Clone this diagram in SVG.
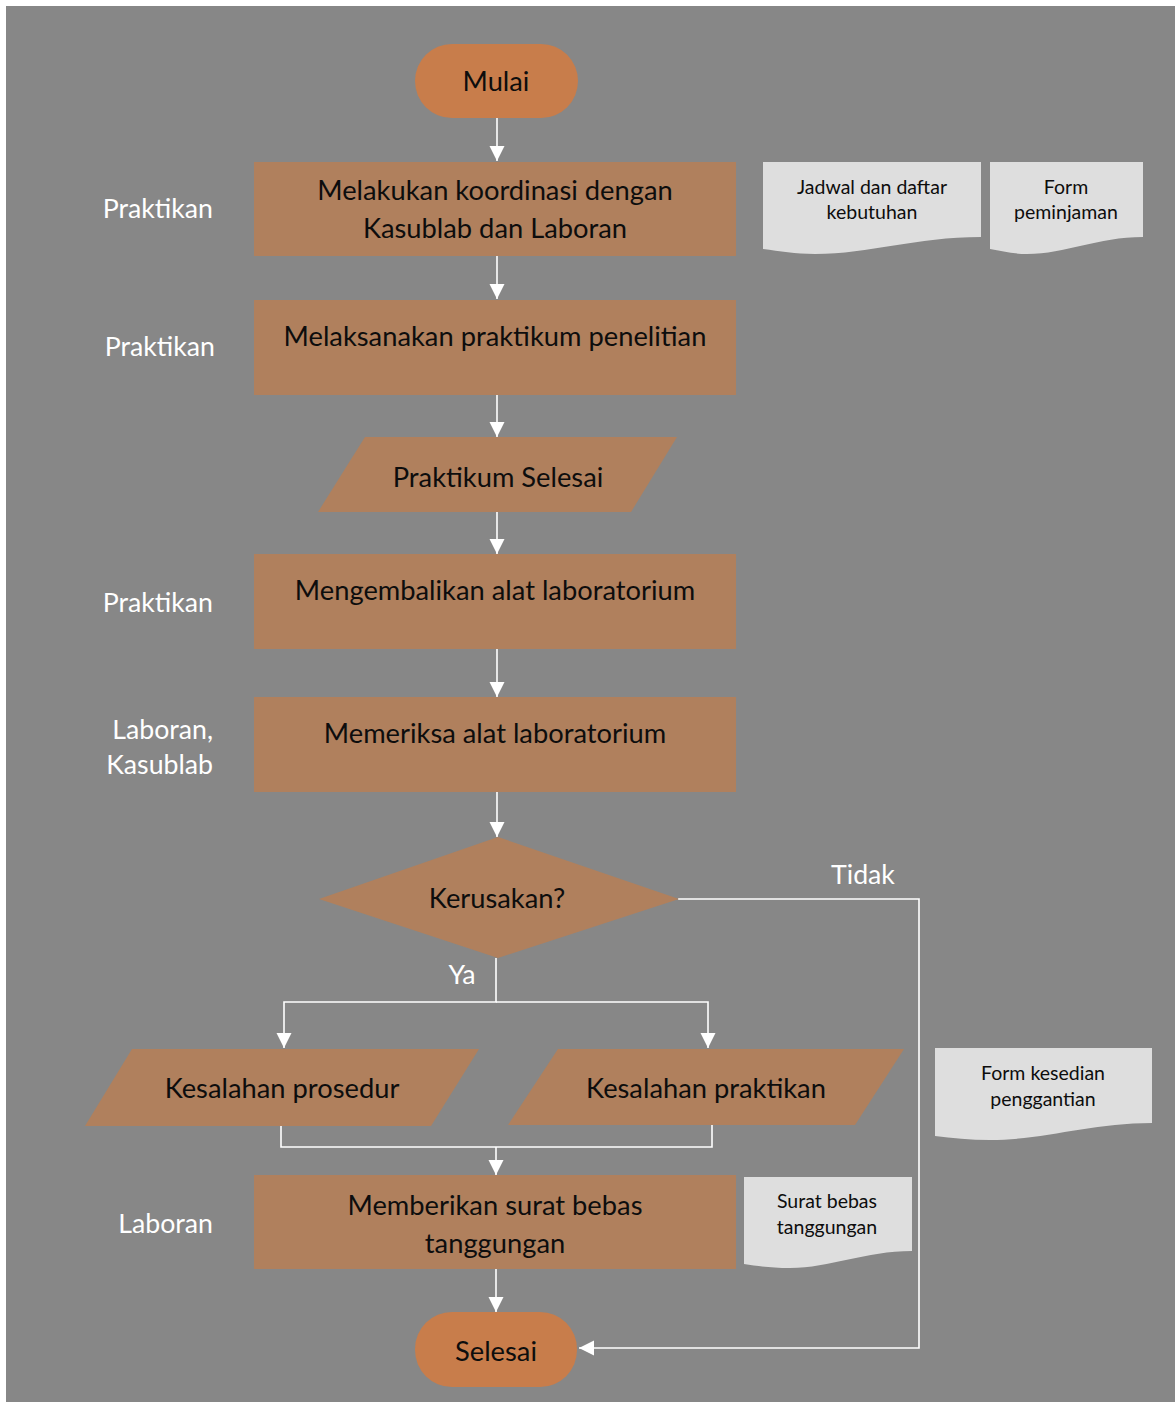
<svg xmlns="http://www.w3.org/2000/svg" width="1175" height="1403" viewBox="0 0 1175 1403">
<defs>
<style>
.bg{fill:#878787}
.proc{fill:#B0805D}
.term{fill:#C87D4B}
.doc{fill:#DEDEDE}
.t{font-family:Lato,"Open Sans","Liberation Sans",sans-serif;fill:#0d0d0d;text-anchor:middle}
.big{font-size:27.3px}
.small{font-size:19.5px}
.lbl{font-family:Lato,"Open Sans","Liberation Sans",sans-serif;fill:#ffffff;text-anchor:end;font-size:26.7px}
.lblc{font-family:Lato,"Open Sans","Liberation Sans",sans-serif;fill:#ffffff;text-anchor:middle;font-size:26.7px}
.ln{fill:none;stroke:#ffffff;stroke-width:1.6}
</style>
<marker id="ah" markerWidth="15" markerHeight="16" refX="15" refY="7.5" orient="auto" markerUnits="userSpaceOnUse" viewBox="0 0 15 15">
<path d="M0,0 L15,7.5 L0,15 Z" fill="#ffffff"/>
</marker>
</defs>
<rect x="0" y="0" width="1175" height="1403" fill="#ffffff"/>
<rect class="bg" x="6" y="6" width="1169" height="1396"/>

<g id="connectors">
<line class="ln" x1="497" y1="118" x2="497" y2="161" marker-end="url(#ah)"/>
<line class="ln" x1="497" y1="256" x2="497" y2="299" marker-end="url(#ah)"/>
<line class="ln" x1="497" y1="395" x2="497" y2="437" marker-end="url(#ah)"/>
<line class="ln" x1="497" y1="512" x2="497" y2="554" marker-end="url(#ah)"/>
<line class="ln" x1="497" y1="649" x2="497" y2="697" marker-end="url(#ah)"/>
<line class="ln" x1="497" y1="792" x2="497" y2="837" marker-end="url(#ah)"/>
<polyline class="ln" points="496,958 496,1002 284,1002 284,1048" marker-end="url(#ah)"/>
<polyline class="ln" points="496,1002 708,1002 708,1048" marker-end="url(#ah)"/>
<polyline class="ln" points="281,1125 281,1147 712,1147 712,1125"/>
<line class="ln" x1="496" y1="1147" x2="496" y2="1175" marker-end="url(#ah)"/>
<line class="ln" x1="496" y1="1269" x2="496" y2="1312" marker-end="url(#ah)"/>
<polyline class="ln" points="678,899 919,899 919,1348 579,1348" marker-end="url(#ah)"/>
<text class="lblc" x="863" y="884">Tidak</text>
<text class="lblc" x="462" y="984">Ya</text>
</g>

<g id="mulai">
<rect class="term" x="415" y="44" width="163" height="74" rx="37" ry="37"/>
<text class="t big" x="496" y="91">Mulai</text>
</g>

<g id="lbl1"><text class="lbl" x="213" y="218">Praktikan</text></g>
<g id="koordinasi">
<rect class="proc" x="254" y="162" width="482" height="94"/>
<text class="t big" x="495" y="200">Melakukan koordinasi dengan</text>
<text class="t big" x="495" y="238">Kasublab dan Laboran</text>
</g>

<g id="doc-jadwal">
<path class="doc" d="M763,162 H981 V237 C915,237 870,254 815,254 C795,254 780,251 763,249 Z"/>
<text class="t small" x="872" y="194">Jadwal dan daftar</text>
<text class="t small" x="872" y="219">kebutuhan</text>
</g>
<g id="doc-form">
<path class="doc" d="M990,162 H1143 V237 C1097,237 1066,254 1027,254 C1013,254 1002,251 990,249 Z"/>
<text class="t small" x="1066" y="194">Form</text>
<text class="t small" x="1066" y="219">peminjaman</text>
</g>

<g id="lbl2"><text class="lbl" x="215" y="356">Praktikan</text></g>
<g id="melaksanakan">
<rect class="proc" x="254" y="300" width="482" height="95"/>
<text class="t big" x="495" y="346">Melaksanakan praktikum penelitian</text>
</g>

<g id="praktikum-selesai">
<polygon class="proc" points="365,437 677,437 631,512 318,512"/>
<text class="t big" x="498" y="487">Praktikum Selesai</text>
</g>

<g id="lbl3"><text class="lbl" x="213" y="612">Praktikan</text></g>
<g id="mengembalikan">
<rect class="proc" x="254" y="554" width="482" height="95"/>
<text class="t big" x="495" y="600">Mengembalikan alat laboratorium</text>
</g>

<g id="lbl4">
<text class="lbl" x="213" y="739">Laboran,</text>
<text class="lbl" x="213" y="774">Kasublab</text>
</g>
<g id="memeriksa">
<rect class="proc" x="254" y="697" width="482" height="95"/>
<text class="t big" x="495" y="743">Memeriksa alat laboratorium</text>
</g>

<g id="kerusakan">
<polygon class="proc" points="498,837 679,899 498,958 319,899"/>
<text class="t big" x="497" y="908">Kerusakan?</text>
</g>

<g id="kesalahan-prosedur">
<polygon class="proc" points="132,1049 479,1049 431,1126 85,1126"/>
<text class="t big" x="282" y="1098">Kesalahan prosedur</text>
</g>
<g id="kesalahan-praktikan">
<polygon class="proc" points="558,1049 904,1049 855,1125 508,1125"/>
<text class="t big" x="706" y="1098">Kesalahan praktikan</text>
</g>

<g id="doc-kesedian">
<path class="doc" d="M935,1048 H1152 V1123 C1090,1123 1045,1140 990,1140 C970,1140 952,1138 935,1136 Z"/>
<text class="t small" x="1043" y="1080">Form kesedian</text>
<text class="t small" x="1043" y="1106">penggantian</text>
</g>

<g id="lbl5"><text class="lbl" x="213" y="1233">Laboran</text></g>
<g id="memberikan">
<rect class="proc" x="254" y="1175" width="482" height="94"/>
<text class="t big" x="495" y="1215">Memberikan surat bebas</text>
<text class="t big" x="495" y="1253">tanggungan</text>
</g>

<g id="doc-surat">
<path class="doc" d="M744,1177 H912 V1251 C865,1251 830,1268 790,1268 C770,1268 757,1266 744,1264 Z"/>
<text class="t small" x="827" y="1208">Surat bebas</text>
<text class="t small" x="827" y="1234">tanggungan</text>
</g>

<g id="selesai">
<rect class="term" x="415" y="1312" width="162" height="75" rx="37" ry="37"/>
<text class="t big" x="496" y="1361">Selesai</text>
</g>
</svg>
